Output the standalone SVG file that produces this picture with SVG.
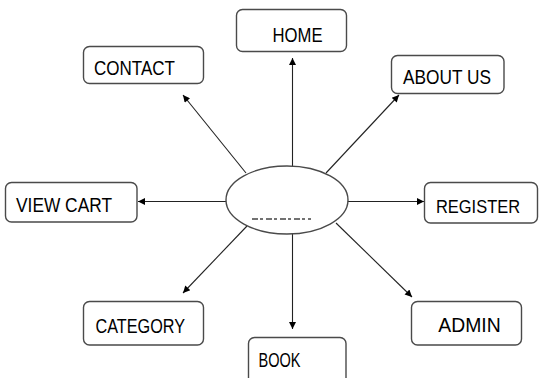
<svg xmlns="http://www.w3.org/2000/svg" width="541" height="378" viewBox="0 0 541 378">
  <style>
    .box { fill: #ffffff; stroke: #4a4a4a; stroke-width: 1.4; }
    .lbl { font-family: "Comic Sans MS", "Liberation Sans", Arial, sans-serif; font-size: 21px; fill: #000000; }
    .edge { stroke: #222222; stroke-width: 1.1; fill: none; marker-end: url(#arrow); }
  </style>
  <defs>
    <marker id="arrow" viewBox="0 0 10 10" refX="10" refY="5" markerWidth="9" markerHeight="7" markerUnits="userSpaceOnUse" orient="auto">
      <path d="M0,0 L10,5 L0,10 z" fill="#000000"/>
    </marker>
  </defs>
  <rect width="541" height="378" fill="#ffffff"/>

  <g id="connectors">
    <line class="edge" x1="292.5" y1="166" x2="292.5" y2="58"/>
    <line class="edge" x1="246" y1="173" x2="183" y2="95"/>
    <line class="edge" x1="326" y1="173" x2="399" y2="95"/>
    <line class="edge" x1="226" y1="201.5" x2="138" y2="201.5"/>
    <line class="edge" x1="347" y1="201.5" x2="424" y2="201.5"/>
    <line class="edge" x1="247" y1="226" x2="183" y2="293"/>
    <line class="edge" x1="292.5" y1="234" x2="292.5" y2="329"/>
    <line class="edge" x1="336" y1="223" x2="412" y2="297"/>
  </g>

  <g id="center">
    <ellipse cx="287" cy="200" rx="61" ry="34" fill="#ffffff" stroke="#4a4a4a" stroke-width="1.4"/>
    <line x1="252" y1="219" x2="311" y2="219" stroke="#444444" stroke-width="1.3" stroke-dasharray="6,2,3,3"/>
  </g>

  <g id="home">
    <rect class="box" x="236.5" y="9.5" width="110" height="42" rx="6"/>
    <text class="lbl" x="272.5" y="41.7" textLength="50" lengthAdjust="spacingAndGlyphs">HOME</text>
  </g>
  <g id="contact">
    <rect class="box" x="83.5" y="46.5" width="120" height="37" rx="6"/>
    <text class="lbl" x="94" y="75" textLength="81" lengthAdjust="spacingAndGlyphs">CONTACT</text>
  </g>
  <g id="about-us">
    <rect class="box" x="391.5" y="55.5" width="112.5" height="38" rx="6"/>
    <text class="lbl" x="403" y="84.3" textLength="88" lengthAdjust="spacingAndGlyphs">ABOUT US</text>
  </g>
  <g id="view-cart">
    <rect class="box" x="5.5" y="182.5" width="131.5" height="39.5" rx="6"/>
    <text class="lbl" x="16" y="211.7" textLength="96" lengthAdjust="spacingAndGlyphs">VIEW CART</text>
  </g>
  <g id="register">
    <rect class="box" x="424.5" y="182.5" width="113" height="40.5" rx="6"/>
    <text class="lbl" x="436" y="213" style="font-size:19px" textLength="84" lengthAdjust="spacingAndGlyphs">REGISTER</text>
  </g>
  <g id="category">
    <rect class="box" x="83.5" y="301.5" width="120" height="43.5" rx="6"/>
    <text class="lbl" x="95.5" y="333.3" textLength="89.5" lengthAdjust="spacingAndGlyphs">CATEGORY</text>
  </g>
  <g id="book">
    <rect class="box" x="248.5" y="337.5" width="97.5" height="48" rx="6"/>
    <text class="lbl" x="258.5" y="366.7" textLength="42" lengthAdjust="spacingAndGlyphs">BOOK</text>
  </g>
  <g id="admin">
    <rect class="box" x="411.5" y="301.5" width="110" height="43.5" rx="6"/>
    <text class="lbl" x="438.3" y="331.7" textLength="62.4" lengthAdjust="spacingAndGlyphs">ADMIN</text>
  </g>
</svg>
